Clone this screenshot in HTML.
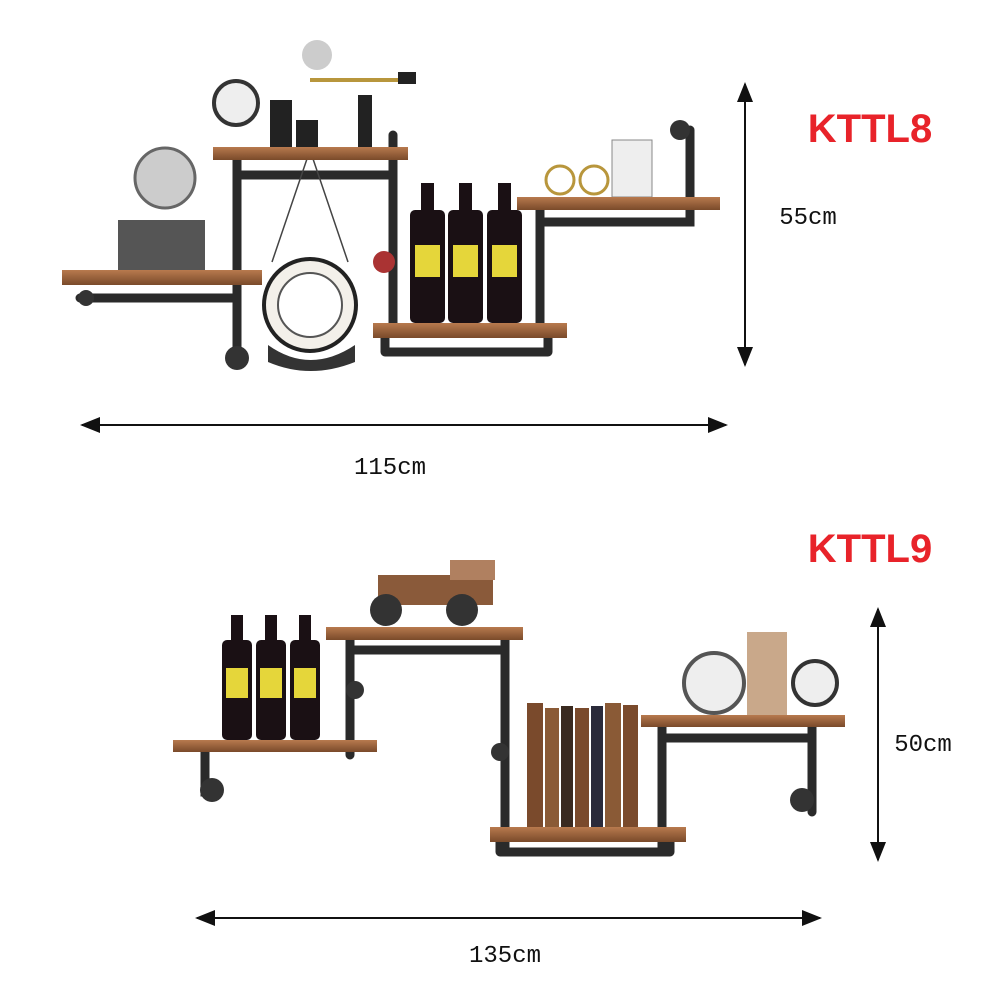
<!DOCTYPE html>
<html><head><meta charset="utf-8"><style>
html,body{margin:0;padding:0;background:#fff;width:1000px;height:1000px;overflow:hidden}
svg{display:block}
</style></head><body>
<svg width="1000" height="1000" viewBox="0 0 1000 1000" xmlns="http://www.w3.org/2000/svg">
<defs>
<linearGradient id="wood" x1="0" y1="0" x2="0" y2="1"><stop offset="0" stop-color="#b87a4e"/><stop offset="1" stop-color="#7a4a2a"/></linearGradient>
<marker id="ah" markerWidth="10" markerHeight="10" refX="9" refY="5" orient="auto-start-reverse"><path d="M0,1 L10,5 L0,9 Z" fill="#111"/></marker>
</defs>
<!-- TOP DIAGRAM -->
<g stroke="#2a2a2a" stroke-linecap="round" fill="none">
<path d="M237 160 V365 M393 135 V330 M237 175 H393 M80 298 H237 M540 210 V332 M540 222 H690 V130 M385 352 H548 M385 338 V352 M548 338 V352" stroke-width="9"/>
</g>
<circle cx="237" cy="358" r="12" fill="#333"/>
<circle cx="86" cy="298" r="8" fill="#333"/>
<circle cx="680" cy="130" r="10" fill="#333"/>
<!-- objects top -->
<rect x="118" y="220" width="87" height="52" fill="#555"/>
<circle cx="165" cy="178" r="30" fill="#ccc" stroke="#666" stroke-width="3"/>
<circle cx="236" cy="103" r="22" fill="#eee" stroke="#333" stroke-width="4"/>
<rect x="270" y="100" width="22" height="47" fill="#222"/>
<rect x="296" y="120" width="22" height="27" fill="#222"/>
<circle cx="317" cy="55" r="15" fill="#ccc"/>
<rect x="358" y="95" width="14" height="52" fill="#222"/>
<path d="M310 80 H415" stroke="#b8963c" stroke-width="4"/>
<rect x="398" y="72" width="18" height="12" fill="#222"/>
<circle cx="310" cy="305" r="46" fill="#f3f0ea" stroke="#222" stroke-width="4"/>
<circle cx="310" cy="305" r="32" fill="#fff" stroke="#555" stroke-width="2"/>
<path d="M310 150 L272 262 M310 150 L348 262" stroke="#444" stroke-width="1.5"/>
<path d="M268 345 Q310 375 355 345 L355 362 Q310 380 268 362 Z" fill="#333"/>
<circle cx="384" cy="262" r="11" fill="#a33"/>
<g fill="#1a1014">
<rect x="410" y="210" width="35" height="113" rx="5"/><rect x="421" y="183" width="13" height="30"/>
<rect x="448" y="210" width="35" height="113" rx="5"/><rect x="459" y="183" width="13" height="30"/>
<rect x="487" y="210" width="35" height="113" rx="5"/><rect x="498" y="183" width="13" height="30"/>
</g>
<g fill="#e5d63a"><rect x="415" y="245" width="25" height="32"/><rect x="453" y="245" width="25" height="32"/><rect x="492" y="245" width="25" height="32"/></g>
<circle cx="560" cy="180" r="14" fill="none" stroke="#b8963c" stroke-width="3"/>
<circle cx="594" cy="180" r="14" fill="none" stroke="#b8963c" stroke-width="3"/>
<rect x="612" y="140" width="40" height="57" fill="#eee" stroke="#888"/>
<!-- shelves top -->
<g fill="url(#wood)">
<rect x="62" y="270" width="200" height="15"/>
<rect x="213" y="147" width="195" height="13"/>
<rect x="373" y="323" width="194" height="15"/>
<rect x="517" y="197" width="203" height="13"/>
</g>
<!-- dims top -->
<line x1="745" y1="84" x2="745" y2="365" stroke="#111" stroke-width="2" marker-start="url(#ah)" marker-end="url(#ah)"/>
<line x1="82" y1="425" x2="726" y2="425" stroke="#111" stroke-width="2" marker-start="url(#ah)" marker-end="url(#ah)"/>
<text x="870" y="142" font-family="Liberation Sans, sans-serif" font-weight="bold" font-size="40" fill="#e8232a" text-anchor="middle">KTTL8</text>
<text x="808" y="224" font-family="Liberation Mono, monospace" font-size="24" fill="#111" text-anchor="middle">55cm</text>
<text x="390" y="474" font-family="Liberation Mono, monospace" font-size="24" fill="#111" text-anchor="middle">115cm</text>

<!-- BOTTOM DIAGRAM -->
<g stroke="#2a2a2a" stroke-linecap="round" fill="none" stroke-width="9">
<path d="M350 640 V755 M505 640 V850 M350 650 H505 M205 752 V792 H215 M662 727 V850 M812 727 V812 M662 738 H812 M500 852 H670 M500 842 V852 M670 842 V852"/>
</g>
<circle cx="212" cy="790" r="12" fill="#333"/>
<circle cx="802" cy="800" r="12" fill="#333"/>
<circle cx="355" cy="690" r="9" fill="#333"/>
<circle cx="500" cy="752" r="9" fill="#333"/>
<g fill="#1a1014">
<rect x="222" y="640" width="30" height="100" rx="5"/><rect x="231" y="615" width="12" height="28"/>
<rect x="256" y="640" width="30" height="100" rx="5"/><rect x="265" y="615" width="12" height="28"/>
<rect x="290" y="640" width="30" height="100" rx="5"/><rect x="299" y="615" width="12" height="28"/>
</g>
<g fill="#e5d63a"><rect x="226" y="668" width="22" height="30"/><rect x="260" y="668" width="22" height="30"/><rect x="294" y="668" width="22" height="30"/></g>
<rect x="378" y="575" width="115" height="30" fill="#8a5a3a"/>
<rect x="450" y="560" width="45" height="20" fill="#b08060"/>
<circle cx="386" cy="610" r="16" fill="#333"/><circle cx="462" cy="610" r="16" fill="#333"/>
<g fill="#7a4a2c"><rect x="527" y="703" width="16" height="124"/><rect x="545" y="708" width="14" height="119" fill="#8a5a36"/><rect x="561" y="706" width="12" height="121" fill="#3a2a20"/><rect x="575" y="708" width="14" height="119"/><rect x="591" y="706" width="12" height="121" fill="#2a2a3a"/><rect x="605" y="703" width="16" height="124" fill="#8a5a36"/><rect x="623" y="705" width="15" height="122"/></g>
<circle cx="714" cy="683" r="30" fill="#eee" stroke="#555" stroke-width="4"/>
<rect x="747" y="632" width="40" height="83" fill="#c9a88a"/>
<circle cx="815" cy="683" r="22" fill="#eee" stroke="#333" stroke-width="4"/>
<g fill="url(#wood)">
<rect x="173" y="740" width="204" height="12"/>
<rect x="326" y="627" width="197" height="13"/>
<rect x="490" y="827" width="196" height="15"/>
<rect x="641" y="715" width="204" height="12"/>
</g>
<line x1="878" y1="609" x2="878" y2="860" stroke="#111" stroke-width="2" marker-start="url(#ah)" marker-end="url(#ah)"/>
<line x1="197" y1="918" x2="820" y2="918" stroke="#111" stroke-width="2" marker-start="url(#ah)" marker-end="url(#ah)"/>
<text x="870" y="562" font-family="Liberation Sans, sans-serif" font-weight="bold" font-size="40" fill="#e8232a" text-anchor="middle">KTTL9</text>
<text x="923" y="751" font-family="Liberation Mono, monospace" font-size="24" fill="#111" text-anchor="middle">50cm</text>
<text x="505" y="962" font-family="Liberation Mono, monospace" font-size="24" fill="#111" text-anchor="middle">135cm</text>
</svg>
</body></html>
